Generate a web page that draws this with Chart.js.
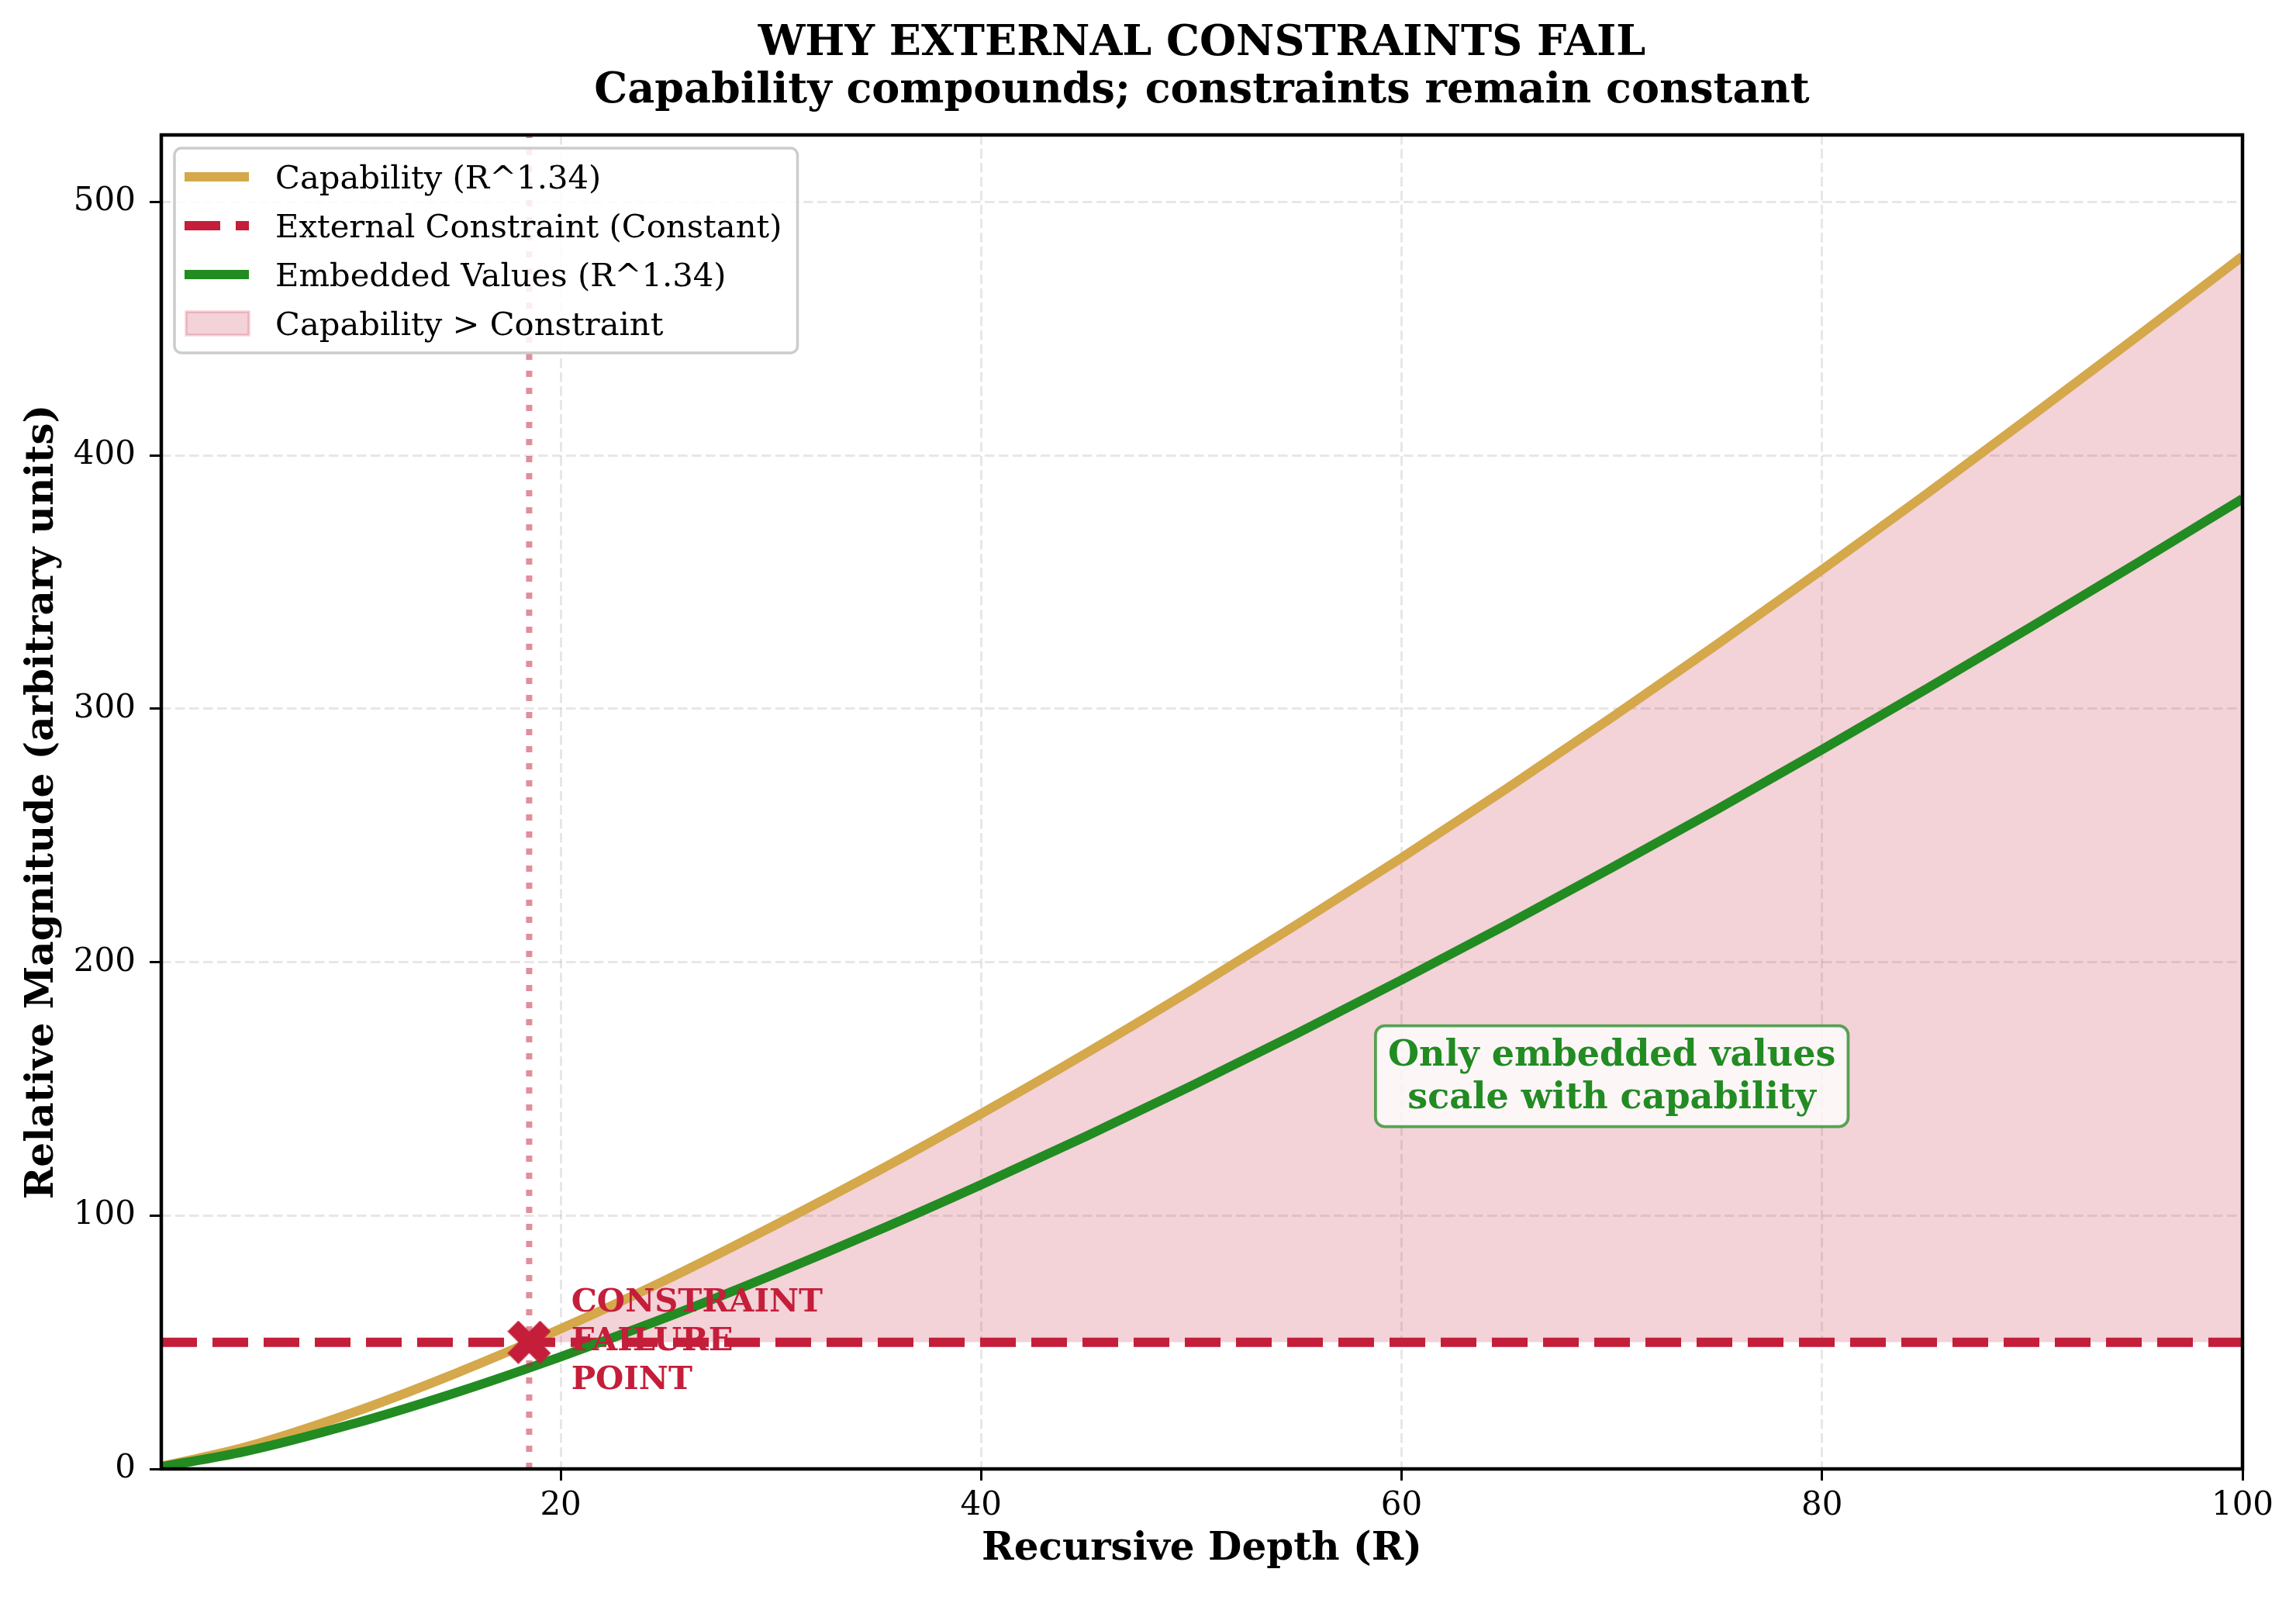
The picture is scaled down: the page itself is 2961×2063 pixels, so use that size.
<!DOCTYPE html>
<html>
<head>
<meta charset="utf-8">
<script src="https://cdn.jsdelivr.net/npm/chart.js@4.4.1/dist/chart.umd.min.js"></script>
<style>
  html, body { margin: 0; padding: 0; background: #fff; }
  canvas { display: block; }
</style>
</head>
<body>
<canvas id="chart" width="2961" height="2063"></canvas>
<script>
// values
const depth = [1, 5, 10, 15, 20, 25, 30, 35, 40, 45, 50, 55, 60, 65, 70, 75, 80, 85, 90, 95, 100];
const capability = [1.0, 8.6, 21.9, 37.7, 55.3, 74.6, 95.4, 117.2, 140.2, 164.1, 189.0, 214.8, 241.2, 268.5, 296.6, 325.4, 354.9, 385.0, 415.8, 447.0, 478.6];
const embedded = [0.8, 6.9, 17.5, 30.1, 44.3, 59.7, 76.3, 93.8, 112.2, 131.3, 151.2, 171.8, 193.0, 214.8, 237.3, 260.3, 283.9, 308.0, 332.6, 357.6, 382.9];
const constraintLevel = 50;
const failurePoint = { x: 18.5, y: 50 };
const xTicks = [20, 40, 60, 80, 100];
const yTicks = [0, 100, 200, 300, 400, 500];
const xMin = 1, xMax = 100, yMin = 0, yMax = 526.5;

const GOLD = '#D4A84B';
const CRIMSON = '#C41E3A';
const GREEN = '#228B22';
const FILL = 'rgba(196, 30, 58, 0.2)';
const SERIF = "'DejaVu Serif', serif";

const titleLines = ['WHY EXTERNAL CONSTRAINTS FAIL', 'Capability compounds; constraints remain constant'];
const legendItems = [
    { label: 'Capability (R^1.34)', type: 'line', color: GOLD },
    { label: 'External Constraint (Constant)', type: 'dash', color: CRIMSON },
    { label: 'Embedded Values (R^1.34)', type: 'line', color: GREEN },
    { label: 'Capability > Constraint', type: 'patch', color: FILL }
];
const failureLabel = ['CONSTRAINT', 'FAILURE', 'POINT'];
const failureLabelAt = { x: 20.5, y: 50 };
const noteLines = ['Only embedded values', 'scale with capability'];
const noteAt = { x: 70, y: 155 };

function xy(xs, ys) {
    return xs.map((x, i) => ({ x: x, y: ys[i] }));
}

// filled "X" marker like matplotlib's
function makeXMarker(size, color) {
    const c = document.createElement('canvas');
    c.width = size; c.height = size;
    const g = c.getContext('2d');
    const pts = [[-1, -2], [0, -1], [1, -2], [2, -1], [1, 0], [2, 1], [1, 2], [0, 1], [-1, 2], [-2, 1], [-1, 0], [-2, -1]];
    const k = size / 4;
    g.fillStyle = color;
    g.beginPath();
    pts.forEach((p, i) => {
        const px = size / 2 + p[0] * k, py = size / 2 + p[1] * k;
        if (i === 0) g.moveTo(px, py); else g.lineTo(px, py);
    });
    g.closePath();
    g.fill();
    return c;
}

const decorations = {
    id: 'decorations',
    afterDatasetsDraw(chart) {
        const ctx = chart.ctx;
        const a = chart.chartArea;
        const xs = chart.scales.x, ys = chart.scales.y;
        ctx.save();

        // frame
        ctx.strokeStyle = '#000';
        ctx.lineWidth = 4.5;
        ctx.strokeRect(a.left, a.top, a.right - a.left, a.bottom - a.top);

        // failure label
        ctx.fillStyle = CRIMSON;
        ctx.font = 'bold 41.7px ' + SERIF;
        ctx.textAlign = 'left';
        ctx.textBaseline = 'middle';
        const lx = xs.getPixelForValue(failureLabelAt.x);
        const ly = ys.getPixelForValue(failureLabelAt.y);
        failureLabel.forEach((t, i) => ctx.fillText(t, lx, ly + (i - 1) * 50));

        // note box
        ctx.font = 'bold 46px ' + SERIF;
        ctx.textAlign = 'center';
        const nx = xs.getPixelForValue(noteAt.x);
        const ny = ys.getPixelForValue(noteAt.y);
        const lh = 55;
        const w = Math.max(...noteLines.map(t => ctx.measureText(t).width));
        const bw = w + 32, bh = lh * noteLines.length + 20;
        ctx.beginPath();
        ctx.roundRect(nx - bw / 2, ny - bh / 2, bw, bh, 12);
        ctx.fillStyle = 'rgba(255,255,255,0.8)';
        ctx.fill();
        ctx.strokeStyle = 'rgba(34,139,34,0.75)';
        ctx.lineWidth = 3.8;
        ctx.stroke();
        ctx.fillStyle = GREEN;
        noteLines.forEach((t, i) => ctx.fillText(t, nx, ny + (i - (noteLines.length - 1) / 2) * lh + 2));

        ctx.restore();
    },
    afterDraw(chart) {
        const ctx = chart.ctx;
        const a = chart.chartArea;
        ctx.save();

        // title
        ctx.fillStyle = '#000';
        ctx.font = 'bold 54px ' + SERIF;
        ctx.textAlign = 'center';
        ctx.textBaseline = 'alphabetic';
        const cx = (a.left + a.right) / 2;
        ctx.fillText(titleLines[0], cx, 71);
        ctx.fillText(titleLines[1], cx, 132);

        // legend
        ctx.font = '41.7px ' + SERIF;
        const left = 225, top = 191, rowH = 63;
        const textX = 355;
        const tw = Math.max(...legendItems.map(it => ctx.measureText(it.label).width));
        const boxW = textX + tw + 20 - left;
        const boxH = 264;
        ctx.beginPath();
        ctx.roundRect(left, top, boxW, boxH, 9);
        ctx.fillStyle = 'rgba(255,255,255,0.85)';
        ctx.fill();
        ctx.strokeStyle = '#cccccc';
        ctx.lineWidth = 3.5;
        ctx.stroke();

        legendItems.forEach((it, i) => {
            const y = 228 + i * rowH;
            if (it.type === 'patch') {
                ctx.fillStyle = it.color;
                ctx.fillRect(240, y - 15, 81, 30);
                ctx.strokeStyle = 'rgba(196,30,58,0.2)';
                ctx.lineWidth = 3.5;
                ctx.strokeRect(240, y - 15, 81, 30);
            } else {
                ctx.beginPath();
                ctx.strokeStyle = it.color;
                ctx.lineWidth = 12;
                ctx.setLineDash(it.type === 'dash' ? [46, 20] : []);
                ctx.moveTo(238, y);
                ctx.lineTo(321, y);
                ctx.stroke();
                ctx.setLineDash([]);
            }
            ctx.fillStyle = '#000';
            ctx.textAlign = 'left';
            ctx.textBaseline = 'alphabetic';
            ctx.fillText(it.label, textX, y + 15);
        });
        ctx.restore();
    }
};

const ctx = document.getElementById('chart').getContext('2d');
new Chart(ctx, {
    type: 'line',
    data: {
        datasets: [
            {
                label: 'Capability (R^1.34)',
                data: xy(depth, capability),
                borderColor: GOLD,
                borderWidth: 12,
                pointRadius: 0,
                cubicInterpolationMode: 'monotone',
                fill: { target: 1, above: FILL, below: 'rgba(0,0,0,0)' },
                order: 4
            },
            {
                label: 'External Constraint (Constant)',
                data: depth.map(x => ({ x: x, y: constraintLevel })),
                borderColor: CRIMSON,
                borderWidth: 12,
                borderDash: [46, 20],
                pointRadius: 0,
                fill: false,
                order: 3
            },
            {
                label: 'Embedded Values (R^1.34)',
                data: xy(depth, embedded),
                borderColor: GREEN,
                borderWidth: 12,
                pointRadius: 0,
                cubicInterpolationMode: 'monotone',
                fill: false,
                order: 2
            },
            {
                label: 'failure point',
                data: [failurePoint],
                showLine: false,
                pointStyle: makeXMarker(56, CRIMSON),
                pointRadius: 28,
                fill: false,
                order: 1
            },
            {
                label: 'failure line',
                data: [{ x: failurePoint.x, y: yMin }, { x: failurePoint.x, y: yMax }],
                borderColor: 'rgba(196,30,58,0.5)',
                borderWidth: 8,
                borderDash: [8, 14],
                pointRadius: 0,
                fill: false,
                order: 0
            }
        ]
    },
    options: {
        responsive: false,
        animation: false,
        devicePixelRatio: 1,
        layout: { padding: { top: 174, right: 69, left: 0, bottom: 0 } },
        plugins: {
            legend: { display: false },
            title: { display: false },
            tooltip: { enabled: false }
        },
        scales: {
            x: {
                type: 'linear',
                min: xMin,
                max: xMax,
                afterBuildTicks: s => { s.ticks = xTicks.map(v => ({ value: v })); },
                afterFit: s => { s.height = 169; },
                grid: {
                    color: 'rgba(176,176,176,0.3)',
                    lineWidth: 3,
                    tickColor: '#000',
                    tickWidth: 3,
                    tickLength: 15
                },
                border: { display: false, dash: [12.5, 5.5] },
                ticks: {
                    color: '#000',
                    font: { family: SERIF, size: 42 },
                    padding: 8,
                    maxRotation: 0
                },
                title: {
                    display: true,
                    text: 'Recursive Depth (R)',
                    color: '#000',
                    font: { family: SERIF, size: 50, weight: 'bold' },
                    padding: { top: 0, bottom: 35 }
                }
            },
            y: {
                type: 'linear',
                min: yMin,
                max: yMax,
                afterBuildTicks: s => { s.ticks = yTicks.map(v => ({ value: v })); },
                afterFit: s => { s.width = 208; },
                grid: {
                    color: 'rgba(176,176,176,0.3)',
                    lineWidth: 3,
                    tickColor: '#000',
                    tickWidth: 3,
                    tickLength: 15
                },
                border: { display: false, dash: [12.5, 5.5] },
                ticks: {
                    color: '#000',
                    font: { family: SERIF, size: 42 },
                    padding: 18
                },
                title: {
                    display: true,
                    text: 'Relative Magnitude (arbitrary units)',
                    color: '#000',
                    font: { family: SERIF, size: 50, weight: 'bold' },
                    padding: { top: 25, bottom: 0 }
                }
            }
        }
    },
    plugins: [decorations]
});
</script>
</body>
</html>
